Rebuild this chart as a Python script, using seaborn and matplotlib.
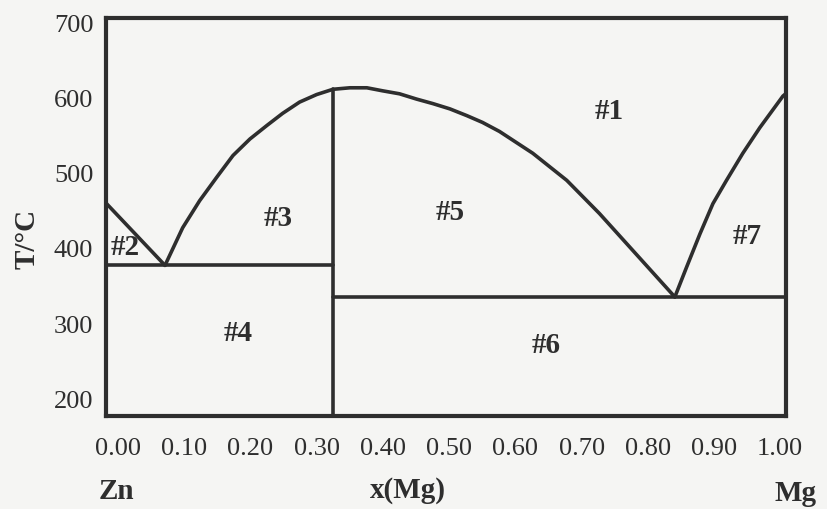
import matplotlib
matplotlib.use("Agg")
import matplotlib.pyplot as plt
import numpy as np
import pandas as pd
import seaborn as sns

sns.set_style("white")
plt.rcParams["font.family"] = ["Liberation Serif", "DejaVu Serif"]

ink = "#2e2e2e"
paper = "#f5f5f3"

# Zn-rich liquidus (straight line down to first eutectic)
zn_liq_x = [0.0, 0.087]
zn_liq_t = [461, 378]

# liquidus of the intermediate compound (left branch, maximum, right branch)
cmp_liq_x = [0.087, 0.113, 0.138, 0.163, 0.187, 0.212, 0.237, 0.260, 0.285,
             0.310, 0.334, 0.359, 0.384, 0.407, 0.432, 0.457, 0.481, 0.506,
             0.531, 0.554, 0.579, 0.628, 0.678, 0.726, 0.775, 0.815, 0.837]
cmp_liq_t = [378, 428, 464, 495, 524, 546, 564, 580, 595,
             605, 612, 614, 614, 610, 606, 599, 593, 586,
             577, 568, 556, 527, 491, 447, 398, 358, 336]

# Mg-rich liquidus
mg_liq_x = [0.837, 0.854, 0.874, 0.893, 0.913, 0.937, 0.962, 0.996, 1.0]
mg_liq_t = [336, 375, 420, 460, 491, 527, 561, 603, 606]

# eutectic lines and compound composition
eut1_x = [0.0, 0.334]
eut1_t = [378, 378]
eut2_x = [0.334, 1.0]
eut2_t = [336, 336]
comp_x = [0.334, 0.334]
comp_t = [178, 612]

# region labels
reg_names = ["#1", "#2", "#3", "#4", "#5", "#6", "#7"]
reg_x = [0.741, 0.028, 0.253, 0.194, 0.506, 0.647, 0.944]
reg_t = [583, 402, 440, 288, 448, 272, 417]

xtick_vals = [0.0, 0.1, 0.2, 0.3, 0.4, 0.5, 0.6, 0.7, 0.8, 0.9, 1.0]
ytick_vals = [200, 300, 400, 500, 600, 700]

fig = plt.figure(figsize=(8.27, 5.09), dpi=100, facecolor=paper)
ax = fig.add_axes([0.128, 0.183, 0.822, 0.782], facecolor=paper)

for xs, ts in [(zn_liq_x, zn_liq_t), (cmp_liq_x, cmp_liq_t), (mg_liq_x, mg_liq_t),
               (eut1_x, eut1_t), (eut2_x, eut2_t), (comp_x, comp_t)]:
    df = pd.DataFrame({"x": xs, "T": ts})
    sns.lineplot(data=df, x="x", y="T", ax=ax, color=ink, lw=2.6,
                 sort=False, estimator=None, solid_joinstyle="round")

for name, x, t in zip(reg_names, reg_x, reg_t):
    ax.text(x, t, name, ha="center", va="center", fontsize=21,
            fontweight="bold", color=ink)

ax.set_xlim(0, 1)
ax.set_ylim(178, 707)
# tick labels in the source sit slightly inside the frame
ax.set_xticks([0.018 + 0.974 * v for v in xtick_vals])
ax.set_xticklabels(["{:.2f}".format(v) for v in xtick_vals])
ax.set_yticks(ytick_vals)
ax.tick_params(length=0, labelsize=19, colors=ink)
ax.tick_params(axis="x", pad=16)
ax.tick_params(axis="y", pad=9)
ax.set_xlabel("")
ax.set_ylabel("")
for s in ax.spines.values():
    s.set_color(ink)
    s.set_linewidth(3)

fig.text(0.033, 0.53, "T/°C", rotation=90, ha="center", va="center",
         fontsize=21, fontweight="bold", color=ink)
fig.text(0.141, 0.035, "Zn", ha="center", va="center", fontsize=21,
         fontweight="bold", color=ink)
fig.text(0.493, 0.037, "x(Mg)", ha="center", va="center", fontsize=21,
         fontweight="bold", color=ink)
fig.text(0.962, 0.03, "Mg", ha="center", va="center", fontsize=21,
         fontweight="bold", color=ink)

fig.savefig("out.png", dpi=100, facecolor=paper)
